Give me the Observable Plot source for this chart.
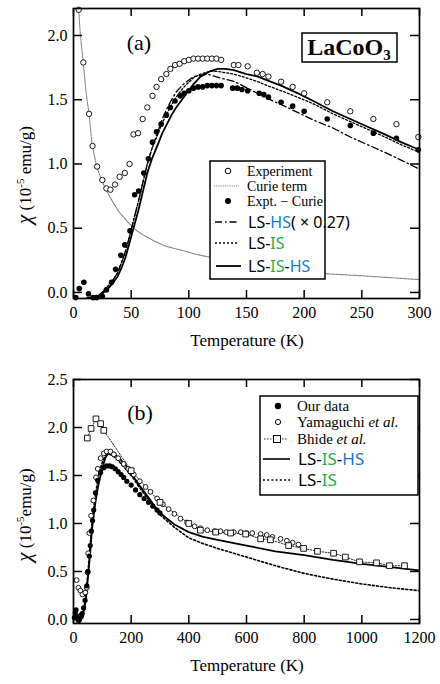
<!DOCTYPE html>
<html><head><meta charset="utf-8">
<script src="https://cdn.jsdelivr.net/npm/d3@7"></script>
<script src="https://cdn.jsdelivr.net/npm/@observablehq/plot@0.6"></script>
<style>
body{margin:0;background:#fff;}
#chart{width:440px;height:684px;position:relative;overflow:hidden;}
#chart svg{display:block;}
#chart svg text{font-family:'Liberation Serif','Times New Roman',serif;}
</style></head><body><div id="chart"></div>
<script>
// ---------- Panel (a) data ----------
const xTicksA = [0, 50, 100, 150, 200, 250, 300];
const yTicksA = [0, 0.5, 1.0, 1.5, 2.0];
const expA_T = [4.5,8.5,13.5,16.5,20.5,25,28.5,32,36,40,44.5,48.6,52,56,60,64,68.5,72,76,80.5,84,88,92,96,100,104,108,112,116,120,124,128,139,143,151,159,164,169,180,190,200,220,240,260,280,299];
const expA_chi = [2.20,1.79,1.39,1.14,0.98,0.875,0.81,0.80,0.84,0.90,0.93,1.0,1.23,1.24,1.35,1.44,1.53,1.60,1.66,1.70,1.74,1.77,1.78,1.80,1.81,1.82,1.82,1.82,1.82,1.82,1.82,1.81,1.77,1.77,1.76,1.71,1.70,1.68,1.64,1.60,1.55,1.48,1.41,1.35,1.31,1.21];
const curieA_T = [3.5,4.5,6,8.5,11,13.5,16,20,25,30,35,40,45,50,55,60,70,80,93,105,120,140,160,180,200,220,250,275,300];
const curieA_chi = [2.21,2.20,2.0,1.79,1.55,1.39,1.16,0.98,0.86,0.77,0.69,0.62,0.57,0.52,0.48,0.45,0.40,0.36,0.33,0.30,0.27,0.23,0.20,0.18,0.16,0.145,0.13,0.115,0.10];
const exCurA_T = [2,5,9,13,17,20,25,28.5,33,36.5,41,44.5,49,53,56.5,61,65,68.5,72,76,80.5,84,88,92.5,96,100,104,108,112,116,120,124,128,138,142,146,151,161,165,169,180,190,200,220,240,260,280,299];
const exCurA_chi = [-0.04,0.03,0.08,-0.01,-0.04,-0.04,-0.03,0.02,0.08,0.18,0.29,0.37,0.48,0.76,0.79,0.93,1.04,1.17,1.25,1.31,1.38,1.44,1.49,1.53,1.55,1.57,1.59,1.60,1.60,1.61,1.61,1.61,1.61,1.59,1.59,1.58,1.57,1.55,1.54,1.52,1.48,1.45,1.41,1.35,1.30,1.24,1.20,1.11];
const theoryA_T = [12,17,22,26,29,33,38,42,45,49,52,56,60,64,68,73.5,77,81,85,89,94,98,104,110,118,125,132,139,150,160,168,180,197,210,225,240,255,270,284,300];
const lsishsA_chi = [-0.04,-0.04,-0.03,0.0,0.02,0.06,0.12,0.2,0.27,0.4,0.5,0.63,0.78,0.93,1.04,1.16,1.24,1.31,1.38,1.44,1.50,1.55,1.62,1.68,1.72,1.74,1.74,1.73,1.70,1.68,1.65,1.61,1.54,1.48,1.41,1.35,1.29,1.23,1.17,1.11];
const lsisA_chi = [-0.04,-0.04,-0.02,0.01,0.04,0.08,0.15,0.24,0.32,0.45,0.56,0.70,0.85,1.0,1.12,1.24,1.32,1.39,1.46,1.52,1.58,1.62,1.67,1.70,1.72,1.72,1.71,1.70,1.67,1.64,1.61,1.57,1.51,1.46,1.39,1.33,1.27,1.21,1.15,1.09];
const lshsA_T = [12,17,22,26,29,33,38,42,45,49,52,56,60,64,68,73.5,77,81,85,89,94,98,104,110,116,127,140,153,168,183,197,211,225,240,255,270,284,300];
const lshsA_chi = [-0.04,-0.04,-0.02,0.01,0.04,0.08,0.15,0.24,0.32,0.45,0.56,0.70,0.85,1.0,1.12,1.26,1.35,1.43,1.50,1.56,1.61,1.64,1.68,1.69,1.70,1.67,1.64,1.58,1.51,1.45,1.39,1.33,1.28,1.21,1.15,1.09,1.03,0.96];

// ---------- Panel (b) data ----------
const xTicksB = [0, 200, 400, 600, 800, 1000, 1200];
const yTicksB = [0, 0.5, 1.0, 1.5, 2.0, 2.5];
const oursB_T = [3,6,9,12,15,18,21,24,27,30,35,40,46,50,55,58,62,66,70,76,84,94,105,115,126,135,145,155,165,174,185,200,215,230,245,260,275,290,300];
const oursB_chi = [0.02,0.07,0.10,0.03,0.00,0.02,0.00,0.04,0.03,0.06,0.12,0.20,0.35,0.50,0.66,0.77,0.92,1.03,1.14,1.32,1.45,1.53,1.58,1.60,1.60,1.59,1.57,1.54,1.51,1.48,1.44,1.40,1.35,1.30,1.26,1.22,1.18,1.14,1.11];
const yamaB_T = [11,17,24,31,41,46,49,51,55,61,69,78,84,94,105,115,128,140,155,174,190,209,230,250,267,290,310,330,350,371,394,420,440,464,490,510,530,556,580,600,620,649,670,690,718,740,760,780];
const yamaB_chi = [0.41,0.33,0.30,0.26,0.28,0.33,0.49,0.69,0.90,1.08,1.24,1.48,1.57,1.68,1.73,1.75,1.75,1.72,1.68,1.62,1.57,1.51,1.44,1.38,1.33,1.26,1.20,1.15,1.10,1.05,1.01,0.97,0.95,0.93,0.92,0.92,0.91,0.91,0.91,0.90,0.90,0.89,0.88,0.86,0.84,0.82,0.80,0.78];
const bhideB_T = [48,61,78,94,105,200,300,400,440,493,545,597,649,683,746,798,846,902,943,992,1051,1096,1148];
const bhideB_chi = [1.89,1.99,2.09,2.04,1.97,1.55,1.22,1.00,0.93,0.91,0.90,0.89,0.84,0.83,0.77,0.74,0.71,0.69,0.65,0.60,0.59,0.56,0.56];
const theoryB_T = [350,400,450,500,600,700,800,900,1000,1100,1200];
const lsishsB_chi = [0.99,0.91,0.86,0.83,0.77,0.71,0.67,0.62,0.58,0.545,0.51];
const lsisB_chi = [0.96,0.85,0.79,0.74,0.65,0.56,0.48,0.42,0.37,0.33,0.30];

// ---------- helpers ----------
const W = 440;
const serif = "'Liberation Serif','Times New Roman',serif";
const sans = "'Noto Sans','Open Sans',sans-serif";
const GREEN = "#1fae4b", BLUE = "#1a78c8";
const zip = (t, y) => t.map((d, i) => ({T: d, chi: y[i]}));

function panel({height, mt, mb, xDomain, yDomain, xTicks, yTicks, marks}) {
  const ml = 73, mr = 21;
  const fw = W - ml - mr, fh = height - mt - mb;
  const tk = {stroke: "black", strokeWidth: 1.5};
  return Plot.plot({
    width: W, height, marginTop: mt, marginBottom: mb, marginLeft: ml, marginRight: mr,
    style: "font-family: 'Liberation Serif', 'Times New Roman', serif; font-size: 16px; background: white; color: black; overflow: visible;",
    x: {domain: xDomain, ticks: xTicks, tickSize: 0, tickPadding: 8, label: null, tickFormat: d3.format("d")},
    y: {domain: yDomain, ticks: yTicks, tickSize: 0, tickPadding: 6, label: null, tickFormat: d3.format(".1f")},
    marks: [
      ...marks,
      Plot.tickX(xTicks, {x: d => d, insetTop: fh - 8, ...tk}),
      Plot.tickX(xTicks, {x: d => d, insetBottom: fh - 8, ...tk}),
      Plot.tickY(yTicks, {y: d => d, insetRight: fw - 9, ...tk}),
      Plot.tickY(yTicks, {y: d => d, insetLeft: fw - 9, ...tk}),
      Plot.frame({stroke: "black", strokeWidth: 1.7})
    ]
  });
}

function txt(g, x, y, size, fam, s, anchor = "start") {
  const t = g.append("text").attr("x", x).attr("y", y).attr("dy", "0.35em")
    .style("font-family", fam).style("font-size", size + "px")
    .attr("fill", "black").attr("text-anchor", anchor);
  if (s !== null) t.text(s);
  return t;
}
function colored(g, x, y, size, parts) {
  const t = txt(g, x, y, size, sans, null);
  parts.forEach(([s, c]) => t.append("tspan").attr("fill", c).text(s));
  return t;
}
function yLabel(svg, cx, cy, sp) {
  const t = d3.select(svg).append("text")
    .attr("transform", `translate(${cx},${cy}) rotate(-90)`)
    .attr("text-anchor", "middle").style("font-family", serif).style("font-size", "17px").attr("fill", "black");
  t.append("tspan").style("font-style", "italic").style("font-size", "21px").text("χ");
  t.append("tspan").text(" (10");
  t.append("tspan").attr("dy", -7).style("font-size", "11px").text("-5");
  t.append("tspan").attr("dy", 7).text(sp ? " emu/g)" : "emu/g)");
}
function xLabel(svg, y) {
  d3.select(svg).append("text").attr("x", 247).attr("y", y).attr("text-anchor", "middle")
    .style("font-family", serif).style("font-size", "17px").attr("fill", "black").text("Temperature (K)");
}

// ---------- Panel (a) ----------
const svgA = panel({
  height: 350, mt: 8, mb: 52,
  xDomain: [0, 300], yDomain: [-0.047, 2.21],
  xTicks: xTicksA, yTicks: yTicksA,
  marks: [
    Plot.line(zip(curieA_T, curieA_chi), {x: "T", y: "chi", stroke: "#808080", strokeWidth: 1.1, strokeDasharray: "1.2,1", clip: true}),
    Plot.line(zip(theoryA_T, lsisA_chi), {x: "T", y: "chi", stroke: "black", strokeWidth: 1.3, strokeDasharray: "2,2", clip: true}),
    Plot.line(zip(lshsA_T, lshsA_chi), {x: "T", y: "chi", stroke: "black", strokeWidth: 1.3, strokeDasharray: "7,3,1.5,3", clip: true}),
    Plot.line(zip(theoryA_T, lsishsA_chi), {x: "T", y: "chi", stroke: "black", strokeWidth: 1.8, clip: true}),
    Plot.dot(zip(expA_T, expA_chi), {x: "T", y: "chi", r: 2.7, fill: "white", stroke: "black", strokeWidth: 0.9}),
    Plot.dot(zip(exCurA_T, exCurA_chi), {x: "T", y: "chi", r: 2.8, fill: "black", stroke: "none"})
  ]
});
{
  const g = d3.select(svgA).append("g");
  txt(g, 139, 42, 22, serif, "(a)", "middle");
  g.append("rect").attr("x", 302).attr("y", 33).attr("width", 95).attr("height", 29)
    .attr("fill", "white").attr("stroke", "black").attr("stroke-width", 1.5);
  const lc = g.append("text").attr("x", 349).attr("y", 55).attr("text-anchor", "middle")
    .style("font-family", serif).style("font-size", "24px").style("font-weight", "bold").attr("fill", "black");
  lc.append("tspan").text("LaCoO");
  lc.append("tspan").attr("dy", 5).style("font-size", "15px").text("3");

  // legend (a)
  g.append("rect").attr("x", 210).attr("y", 161).attr("width", 115).attr("height", 118)
    .attr("fill", "white").attr("stroke", "black").attr("stroke-width", 1.5);
  g.append("circle").attr("cx", 228).attr("cy", 171).attr("r", 2.8).attr("fill", "white").attr("stroke", "black");
  txt(g, 247, 171, 14, serif, "Experiment");
  g.append("line").attr("x1", 214).attr("x2", 239).attr("y1", 186).attr("y2", 186)
    .attr("stroke", "#808080").attr("stroke-width", 1.1).attr("stroke-dasharray", "1.2,1");
  txt(g, 247, 186, 14, serif, "Curie term");
  g.append("circle").attr("cx", 228).attr("cy", 201).attr("r", 3).attr("fill", "black");
  txt(g, 247, 201, 14, serif, "Expt. − Curie");
  g.append("line").attr("x1", 215).attr("x2", 239).attr("y1", 222).attr("y2", 222)
    .attr("stroke", "black").attr("stroke-width", 1.3).attr("stroke-dasharray", "7,3,1.5,3");
  colored(g, 248, 222, 16, [["LS-", "black"], ["HS", BLUE], ["( × 0.27)", "black"]]);
  g.append("line").attr("x1", 215).attr("x2", 239).attr("y1", 243).attr("y2", 243)
    .attr("stroke", "black").attr("stroke-width", 1.3).attr("stroke-dasharray", "2,2");
  colored(g, 248, 243, 16, [["LS-", "black"], ["IS", GREEN]]);
  g.append("line").attr("x1", 216).attr("x2", 241).attr("y1", 266).attr("y2", 266)
    .attr("stroke", "black").attr("stroke-width", 1.8);
  colored(g, 248, 266, 16, [["LS-", "black"], ["IS", GREEN], ["-", "black"], ["HS", BLUE]]);
}
yLabel(svgA, 31, 175, true);
xLabel(svgA, 346);

// ---------- Panel (b) ----------
const svgB = panel({
  height: 334, mt: 29, mb: 61,
  xDomain: [0, 1200], yDomain: [-0.042, 2.5],
  xTicks: xTicksB, yTicks: yTicksB,
  marks: [
    Plot.line(zip(bhideB_T, bhideB_chi), {x: "T", y: "chi", stroke: "black", strokeWidth: 0.8, strokeDasharray: "1.5,1.5", clip: true}),
    Plot.line(zip(theoryA_T.concat(theoryB_T), lsisA_chi.concat(lsisB_chi)), {x: "T", y: "chi", stroke: "black", strokeWidth: 1.6, strokeDasharray: "2,2.2", clip: true}),
    Plot.line(zip(theoryA_T.concat(theoryB_T), lsishsA_chi.concat(lsishsB_chi)), {x: "T", y: "chi", stroke: "black", strokeWidth: 1.8, clip: true}),
    Plot.dot(zip(yamaB_T, yamaB_chi), {x: "T", y: "chi", r: 2.4, fill: "white", stroke: "black", strokeWidth: 0.9}),
    Plot.dot(zip(bhideB_T, bhideB_chi), {x: "T", y: "chi", symbol: "square", r: 3.2, fill: "white", stroke: "black", strokeWidth: 0.9}),
    Plot.dot(zip(oursB_T, oursB_chi), {x: "T", y: "chi", r: 2.6, fill: "black", stroke: "none"})
  ]
});
{
  const g = d3.select(svgB).append("g");
  const oy = -350;
  txt(g, 140, 412 + oy, 22, serif, "(b)", "middle");
  g.append("rect").attr("x", 260).attr("y", 396 + oy).attr("width", 158).attr("height", 99)
    .attr("fill", "white").attr("stroke", "black").attr("stroke-width", 1.5);
  g.append("circle").attr("cx", 278).attr("cy", 406 + oy).attr("r", 3.2).attr("fill", "black");
  txt(g, 297, 406 + oy, 15, serif, "Our data");
  g.append("circle").attr("cx", 278).attr("cy", 422 + oy).attr("r", 2.6).attr("fill", "white").attr("stroke", "black");
  const ya = txt(g, 297, 422 + oy, 15, serif, null);
  ya.append("tspan").text("Yamaguchi ");
  ya.append("tspan").style("font-style", "italic").text("et al.");
  g.append("line").attr("x1", 264).attr("x2", 288).attr("y1", 439 + oy).attr("y2", 439 + oy)
    .attr("stroke", "black").attr("stroke-width", 0.8).attr("stroke-dasharray", "1.5,1.5");
  g.append("rect").attr("x", 273.5).attr("y", 435.5 + oy).attr("width", 7).attr("height", 7)
    .attr("fill", "white").attr("stroke", "black");
  const bh = txt(g, 297, 439 + oy, 15, serif, null);
  bh.append("tspan").text("Bhide ");
  bh.append("tspan").style("font-style", "italic").text("et al.");
  g.append("line").attr("x1", 263).attr("x2", 290).attr("y1", 459 + oy).attr("y2", 459 + oy)
    .attr("stroke", "black").attr("stroke-width", 1.6);
  colored(g, 298, 459 + oy, 17, [["LS-", "black"], ["IS", GREEN], ["-", "black"], ["HS", BLUE]]);
  g.append("line").attr("x1", 263).attr("x2", 290).attr("y1", 480 + oy).attr("y2", 480 + oy)
    .attr("stroke", "black").attr("stroke-width", 1.6).attr("stroke-dasharray", "2,2.2");
  colored(g, 298, 480 + oy, 17, [["LS-", "black"], ["IS", GREEN]]);
}
yLabel(svgB, 31, 515 - 350, false);
xLabel(svgB, 671 - 350);

const root = document.getElementById("chart");
root.appendChild(svgA);
root.appendChild(svgB);
</script>
</body></html>
